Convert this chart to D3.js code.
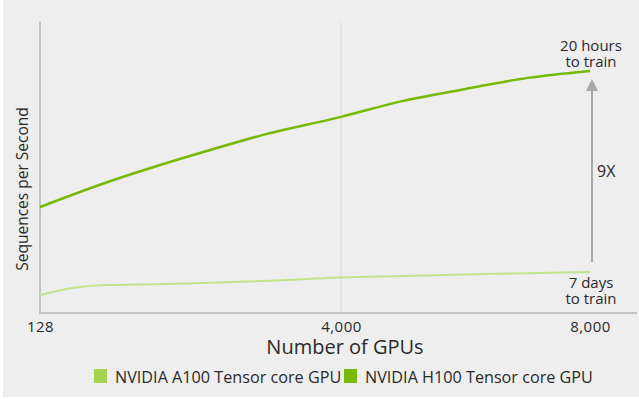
<!DOCTYPE html>
<html>
<head>
<meta charset="utf-8">
<script src="https://cdn.jsdelivr.net/npm/d3@7"></script>
<style>
  html, body { margin: 0; padding: 0; background: #ffffff; }
  svg { display: block; font-family: "Open Sans", "Noto Sans", sans-serif; }
</style>
</head>
<body>
<svg id="chart" width="639" height="399"></svg>
<script>
// Data (GPU count -> relative sequences per second)
const xTicks = [128, 4000, 8000];
const a100Gpus = [128, 640, 1000, 2000, 3000, 4000, 5000, 6000, 7000, 8000];
const a100Vals = [6.2, 8.9, 9.6, 10.1, 11.0, 12.2, 12.7, 13.2, 13.7, 14.1];
const h100Gpus = [128, 1000, 2000, 3000, 4000, 5000, 6000, 7000, 8000];
const h100Vals = [36.4, 45.0, 53.5, 61.2, 67.4, 72.9, 77.0, 80.8, 83.2];
const seriesNames = ["NVIDIA A100 Tensor core GPU", "NVIDIA H100 Tensor core GPU"];
const seriesColors = ["#a6d151", "#76b900"];
const lineColors = ["#c2e38c", "#76b900"];

const svg = d3.select("#chart");
const width = 639;
const textColor = "#2a2a2a";
const axisColor = "#c4c4c4";

// Panel background
svg.append("rect")
  .attr("x", 3).attr("y", 0)
  .attr("width", width - 3).attr("height", 397)
  .attr("fill", "#eeeeee");

// Scales -- the x axis is not evenly spaced in the original, so piecewise
const xScale = d3.scaleLinear()
  .domain(xTicks)
  .range([40, 341, 590]);

const yScale = d3.scaleLinear()
  .domain([0, 100])
  .range([313, 22]);

// Vertical gridline at the middle tick
svg.append("line")
  .attr("x1", xScale(4000)).attr("x2", xScale(4000))
  .attr("y1", yScale(100)).attr("y2", yScale(0))
  .attr("stroke", "#dadada")
  .attr("stroke-width", 1);

// Axes
svg.append("line")
  .attr("x1", 40).attr("x2", 40)
  .attr("y1", yScale(100)).attr("y2", yScale(0) + 1)
  .attr("stroke", axisColor)
  .attr("stroke-width", 2);

svg.append("line")
  .attr("x1", 39).attr("x2", 637)
  .attr("y1", yScale(0)).attr("y2", yScale(0))
  .attr("stroke", axisColor)
  .attr("stroke-width", 2);

const xAxis = svg.append("g")
  .attr("transform", `translate(0,${yScale(0)})`)
  .call(d3.axisBottom(xScale)
    .tickValues(xTicks)
    .tickFormat(d3.format(","))
    .tickSize(0)
    .tickPadding(8));
xAxis.select(".domain").remove();
xAxis.selectAll("text")
  .attr("font-family", "'Open Sans', sans-serif")
  .attr("font-size", "15px")
  .attr("letter-spacing", "0.5px")
  .attr("fill", textColor);

// Axis titles
svg.append("text")
  .attr("x", 345).attr("y", 354)
  .attr("text-anchor", "middle")
  .attr("font-size", "20px")
  .attr("fill", textColor)
  .text("Number of GPUs");

svg.append("text")
  .attr("transform", "translate(28,189) rotate(-90)")
  .attr("text-anchor", "middle")
  .attr("font-size", "15.5px")
  .attr("fill", textColor)
  .text("Sequences per Second");

// Lines
const line = d3.line()
  .x(d => xScale(d[0]))
  .y(d => yScale(d[1]))
  .curve(d3.curveMonotoneX);

svg.append("path")
  .datum(d3.zip(a100Gpus, a100Vals))
  .attr("d", line)
  .attr("fill", "none")
  .attr("stroke", lineColors[0])
  .attr("stroke-width", 2);

svg.append("path")
  .datum(d3.zip(h100Gpus, h100Vals))
  .attr("d", line)
  .attr("fill", "none")
  .attr("stroke", lineColors[1])
  .attr("stroke-width", 2.5);

// 9X annotation arrow
const arrowX = xScale(8000) + 2;
svg.append("line")
  .attr("x1", arrowX).attr("x2", arrowX)
  .attr("y1", 262).attr("y2", 90)
  .attr("stroke", "#a8a8a8")
  .attr("stroke-width", 2);
svg.append("path")
  .attr("d", `M${arrowX - 6},91 L${arrowX},79 L${arrowX + 6},91 Z`)
  .attr("fill", "#a8a8a8");

svg.append("text")
  .attr("x", 597).attr("y", 177)
  .attr("font-size", "16px")
  .attr("fill", textColor)
  .text("9X");

const notes = [
  { lines: ["20 hours", "to train"], y: 51 },
  { lines: ["7 days", "to train"], y: 288 }
];
notes.forEach(n => {
  n.lines.forEach((t, i) => {
    svg.append("text")
      .attr("x", 591).attr("y", n.y + i * 15.5)
      .attr("text-anchor", "middle")
      .attr("font-size", "15px")
      .attr("fill", textColor)
      .text(t);
  });
});

// Legend
const legendX = [94, 344];
seriesNames.forEach((name, i) => {
  const g = svg.append("g").attr("transform", `translate(${legendX[i]},369)`);
  g.append("rect")
    .attr("width", 13).attr("height", 14)
    .attr("fill", seriesColors[i]);
  g.append("text")
    .attr("x", 21).attr("y", 13.5)
    .attr("font-size", "16.2px")
    .attr("fill", textColor)
    .text(name);
});
</script>
</body>
</html>
